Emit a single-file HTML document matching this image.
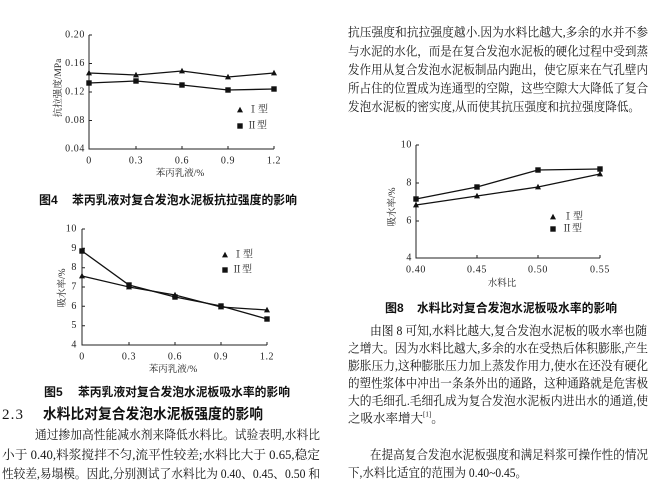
<!DOCTYPE html>
<html><head><meta charset="utf-8"><style>
html,body{margin:0;padding:0;background:#fff;}
svg{display:block;}
.b{font-family:"Liberation Serif","Noto Serif CJK SC",serif;font-size:12.5px;fill:#151515;}
.h{font-family:"Liberation Sans","Noto Sans CJK SC",sans-serif;font-weight:bold;font-size:14.5px;fill:#111;}
.cap{font-family:"Liberation Sans","Noto Sans CJK SC",sans-serif;font-weight:bold;font-size:12px;fill:#111;}
.tk{font-family:"Liberation Serif",serif;font-size:10px;fill:#222;letter-spacing:0.6px;}
.ax{font-family:"Liberation Serif","Noto Serif CJK SC",serif;font-size:9.5px;fill:#222;}
.lg{font-family:"Liberation Serif","Noto Serif CJK SC",serif;font-size:10px;fill:#222;}
.ln{fill:none;stroke:#111;stroke-width:1.3;}
.axl{fill:none;stroke:#222;stroke-width:1;}
</style></head><body>
<svg width="667" height="492" viewBox="0 0 667 492" xmlns="http://www.w3.org/2000/svg">
<rect width="667" height="492" fill="#fff"/>
<defs>
<polygon id="tri" points="0,-3.2 -3,2.4 3,2.4" fill="#111"/>
<rect id="sq" x="-2.7" y="-2.7" width="5.4" height="5.4" fill="#111"/>
</defs>

<!-- ===== Chart 4 ===== -->
<path class="axl" d="M89,35 L89,149 L274,149 M89,35 h3 M89,63.5 h3 M89,92 h3 M89,120.5 h3 M136,149 v-3 M182,149 v-3 M228,149 v-3 M274,149 v-3"/>
<g class="tk" text-anchor="end" dominant-baseline="central">
<text x="85" y="35">0.20</text><text x="85" y="63.5">0.16</text><text x="85" y="92">0.12</text><text x="85" y="120.5">0.08</text><text x="85" y="149">0.04</text>
</g>
<g class="tk" text-anchor="middle" dominant-baseline="central">
<text x="89" y="161">0</text><text x="136" y="161">0.3</text><text x="182" y="161">0.6</text><text x="228" y="161">0.9</text><text x="274" y="161">1.2</text>
</g>
<text class="ax" x="180" y="174" text-anchor="middle" dominant-baseline="central">苯丙乳液/%</text>
<text class="ax" transform="translate(59,88) rotate(-90)" text-anchor="middle" dominant-baseline="central">抗拉强度/MPa</text>
<polyline class="ln" points="89,73 136,75 182,71 228,77 274,73"/>
<polyline class="ln" points="89,83 136,81 182,85 228,90 274,89"/>
<use href="#tri" x="89" y="73"/><use href="#tri" x="136" y="75"/><use href="#tri" x="182" y="71"/><use href="#tri" x="228" y="77"/><use href="#tri" x="274" y="73"/>
<use href="#sq" x="89" y="83"/><use href="#sq" x="136" y="81"/><use href="#sq" x="182" y="85"/><use href="#sq" x="228" y="90"/><use href="#sq" x="274" y="89"/>
<use href="#tri" x="240" y="110"/><text class="lg" x="248" y="110" dominant-baseline="central">Ⅰ型</text>
<use href="#sq" x="240" y="126"/><text class="lg" x="247" y="126" dominant-baseline="central">Ⅱ型</text>
<text class="cap" x="39" y="200" dominant-baseline="central">图4</text>
<text class="cap" x="72" y="200" dominant-baseline="central" textLength="225" lengthAdjust="spacingAndGlyphs">苯丙乳液对复合发泡水泥板抗拉强度的影响</text>

<!-- ===== Chart 5 ===== -->
<path class="axl" d="M82,229 L82,345 L267,345 M82,229 h3 M82,248.3 h3 M82,267.7 h3 M82,287 h3 M82,306.3 h3 M82,325.7 h3 M129,345 v-3 M175,345 v-3 M221,345 v-3 M267,345 v-3"/>
<g class="tk" text-anchor="end" dominant-baseline="central">
<text x="77" y="229">10</text><text x="77" y="248.3">9</text><text x="77" y="267.7">8</text><text x="77" y="287">7</text><text x="77" y="306.3">6</text><text x="77" y="325.7">5</text><text x="77" y="345">4</text>
</g>
<g class="tk" text-anchor="middle" dominant-baseline="central">
<text x="82" y="357">0</text><text x="129" y="357">0.3</text><text x="175" y="357">0.6</text><text x="221" y="357">0.9</text><text x="267" y="357">1.2</text>
</g>
<text class="ax" x="173" y="370" text-anchor="middle" dominant-baseline="central">苯丙乳液/%</text>
<text class="ax" transform="translate(63,288) rotate(-90)" text-anchor="middle" dominant-baseline="central">吸水率/%</text>
<polyline class="ln" points="82,276 129,287 175,295 221,307 267,310"/>
<polyline class="ln" points="82,251 129,285 175,297 221,306 267,319"/>
<use href="#tri" x="82" y="276"/><use href="#tri" x="129" y="287"/><use href="#tri" x="175" y="295"/><use href="#tri" x="221" y="307"/><use href="#tri" x="267" y="310"/>
<use href="#sq" x="82" y="251"/><use href="#sq" x="129" y="285"/><use href="#sq" x="175" y="297"/><use href="#sq" x="221" y="306"/><use href="#sq" x="267" y="319"/>
<use href="#tri" x="225" y="255"/><text class="lg" x="233" y="255" dominant-baseline="central">Ⅰ型</text>
<use href="#sq" x="225" y="270"/><text class="lg" x="232" y="270" dominant-baseline="central">Ⅱ型</text>
<text class="cap" x="44" y="392" dominant-baseline="central">图5</text>
<text class="cap" x="78" y="392" dominant-baseline="central" textLength="212" lengthAdjust="spacingAndGlyphs">苯丙乳液对复合发泡水泥板吸水率的影响</text>

<!-- ===== Chart 8 ===== -->
<path class="axl" d="M416,145 L416,258 L600,258 M416,145 h3 M416,183 h3 M416,221 h3 M477,258 v-3 M538,258 v-3 M600,258 v-3"/>
<g class="tk" text-anchor="end" dominant-baseline="central">
<text x="412" y="145">10</text><text x="412" y="183">8</text><text x="412" y="221">6</text><text x="412" y="258">4</text>
</g>
<g class="tk" text-anchor="middle" dominant-baseline="central">
<text x="416" y="270">0.40</text><text x="477" y="270">0.45</text><text x="538" y="270">0.50</text><text x="600" y="270">0.55</text>
</g>
<text class="ax" x="502" y="284" text-anchor="middle" dominant-baseline="central">水料比</text>
<text class="ax" transform="translate(393,207) rotate(-90)" text-anchor="middle" dominant-baseline="central">吸水率/%</text>
<polyline class="ln" points="416,205 477,196 538,187 600,174"/>
<polyline class="ln" points="416,199 477,187 538,170 600,169"/>
<use href="#tri" x="416" y="205"/><use href="#tri" x="477" y="196"/><use href="#tri" x="538" y="187"/><use href="#tri" x="600" y="174"/>
<use href="#sq" x="416" y="199"/><use href="#sq" x="477" y="187"/><use href="#sq" x="538" y="170"/><use href="#sq" x="600" y="169"/>
<use href="#tri" x="553" y="217"/><text class="lg" x="563" y="217" dominant-baseline="central">Ⅰ型</text>
<use href="#sq" x="553" y="229"/><text class="lg" x="562" y="229" dominant-baseline="central">Ⅱ型</text>
<text class="cap" x="385" y="308" dominant-baseline="central">图8</text>
<text class="cap" x="417" y="308" dominant-baseline="central" textLength="200" lengthAdjust="spacingAndGlyphs">水料比对复合发泡水泥板吸水率的影响</text>

<!-- ===== Left body text ===== -->
<text class="b" x="2" y="415" dominant-baseline="central" style="font-size:15px" textLength="21">2.3</text>
<text class="h" x="43" y="415" dominant-baseline="central" textLength="220" lengthAdjust="spacingAndGlyphs">水料比对复合发泡水泥板强度的影响</text>
<g class="b" dominant-baseline="central">
<text x="35" y="435" textLength="285" lengthAdjust="spacingAndGlyphs">通过掺加高性能减水剂来降低水料比。试验表明,水料比</text>
<text x="2" y="455" textLength="318" lengthAdjust="spacingAndGlyphs">小于 0.40,料浆搅拌不匀,流平性较差;水料比大于 0.65,稳定</text>
<text x="2" y="474" textLength="318" lengthAdjust="spacingAndGlyphs">性较差,易塌模。因此,分别测试了水料比为 0.40、0.45、0.50 和</text>
</g>

<!-- ===== Right body text top ===== -->
<g class="b" dominant-baseline="central">
<text x="348" y="32.5" textLength="300" lengthAdjust="spacingAndGlyphs">抗压强度和抗拉强度越小.因为水料比越大,多余的水并不参</text>
<text x="348" y="51.5" textLength="300" lengthAdjust="spacingAndGlyphs">与水泥的水化，而是在复合发泡水泥板的硬化过程中受到蒸</text>
<text x="348" y="70" textLength="300" lengthAdjust="spacingAndGlyphs">发作用从复合发泡水泥板制品内跑出，使它原来在气孔壁内</text>
<text x="348" y="88.5" textLength="300" lengthAdjust="spacingAndGlyphs">所占住的位置成为连通型的空隙，这些空隙大大降低了复合</text>
<text x="348" y="107" textLength="292" lengthAdjust="spacingAndGlyphs">发泡水泥板的密实度,从而使其抗压强度和抗拉强度降低。</text>
</g>

<!-- ===== Right body text bottom ===== -->
<g class="b" dominant-baseline="central">
<text x="370" y="331" textLength="277" lengthAdjust="spacingAndGlyphs">由图 8 可知,水料比越大,复合发泡水泥板的吸水率也随</text>
<text x="348" y="348.5" textLength="300" lengthAdjust="spacingAndGlyphs">之增大。因为水料比越大,多余的水在受热后体积膨胀,产生</text>
<text x="348" y="366" textLength="300" lengthAdjust="spacingAndGlyphs">膨胀压力,这种膨胀压力加上蒸发作用力,使水在还没有硬化</text>
<text x="348" y="383.5" textLength="300" lengthAdjust="spacingAndGlyphs">的塑性浆体中冲出一条条外出的通路，这种通路就是危害极</text>
<text x="348" y="401" textLength="300" lengthAdjust="spacingAndGlyphs">大的毛细孔.毛细孔成为复合发泡水泥板内进出水的通道,使</text>
<text x="348" y="418.5">之吸水率增大<tspan style="font-size:7px" dy="-4">[1]</tspan><tspan dy="4">。</tspan></text>
<text x="370" y="455" textLength="278" lengthAdjust="spacingAndGlyphs">在提高复合发泡水泥板强度和满足料浆可操作性的情况</text>
<text x="348" y="473" textLength="179" lengthAdjust="spacingAndGlyphs">下,水料比适宜的范围为 0.40~0.45。</text>
</g>
</svg>
</body></html>
